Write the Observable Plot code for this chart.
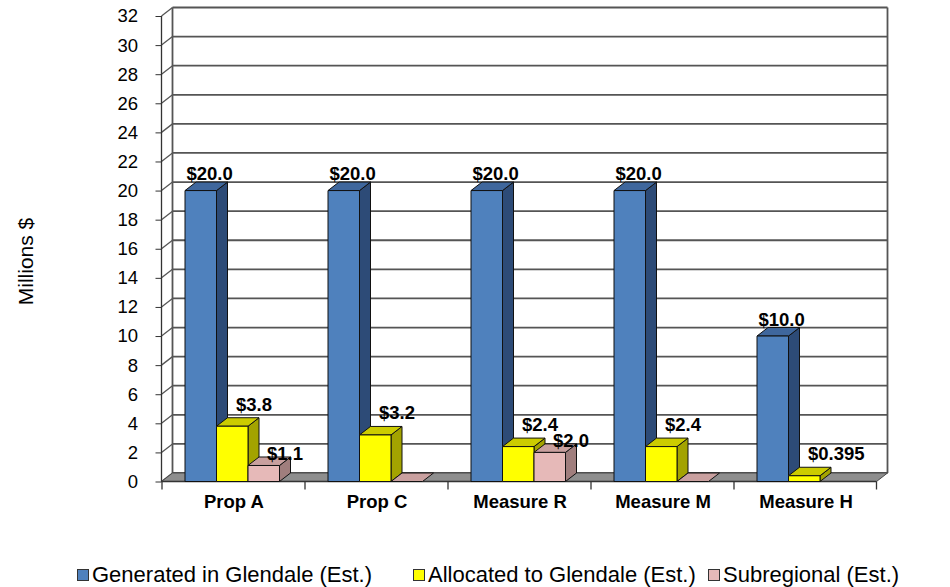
<!DOCTYPE html>
<html><head><meta charset="utf-8">
<script src="https://cdn.jsdelivr.net/npm/d3@7"></script>
<script src="https://cdn.jsdelivr.net/npm/@observablehq/plot@0.6"></script>
<style>
body{margin:0;background:#fff;font-family:"Liberation Sans",Arial,sans-serif;}
#wrap{position:relative;width:950px;height:587px;overflow:hidden;}
.legend{position:absolute;top:561px;left:0;width:950px;height:28px;font-size:22px;line-height:28px;color:#000;}
.item{position:absolute;top:0;white-space:nowrap;}
.sw{position:absolute;top:8px;width:12px;height:12px;border:1px solid #333;box-sizing:border-box;}
</style></head><body><div id="wrap"><div id="chart"></div><div class="legend" id="legend"></div></div>
<script>
// ---- data ----
const categories = ["Prop A", "Prop C", "Measure R", "Measure M", "Measure H"];
const seriesNames = ["Generated in Glendale (Est.)", "Allocated to Glendale (Est.)", "Subregional (Est.)"];
const generated = [20.0, 20.0, 20.0, 20.0, 10.0];
const allocated = [3.8, 3.2, 2.4, 2.4, 0.395];
const subregional = [1.1, 0, 2.0, 0, null];
const yTicks = [0, 2, 4, 6, 8, 10, 12, 14, 16, 18, 20, 22, 24, 26, 28, 30, 32];

// ---- styling ----
const seriesStyle = [
  {front: "#4f81bd", top: "#3f679d", side: "#2d4b77", labelDx: -47.5, labelDy: -11},
  {front: "#ffff00", top: "#cccc00", side: "#a3a300", labelDx: 2, labelDy: -16},
  {front: "#e6b9b8", top: "#c9a09f", side: "#a07e7d", labelDx: 33, labelDy: -6}
];
const seriesValues = [generated, allocated, subregional];
const rows = [];
seriesValues.forEach((vals, si) => vals.forEach((v, ci) => rows.push({cat: categories[ci], series: seriesNames[si], si, value: v})));

const W = 950, H = 530;
const mL = 161.5, mR = 73.5, mT = 16, mB = 48.5;
const DX = 11, DY = -8.5;
const OFF = 23, BARW = 31.5;
const fmt = d => d.value < 1 ? "$" + d.value : "$" + d.value.toFixed(1);
const font = '"Liberation Sans", Arial, sans-serif';

function path(pts) { return "M" + pts.map(p => p.join(",")).join("L") + "Z"; }

function wallMark(index, scales, values, dim) {
  const {x, y} = scales;
  const xl = dim.marginLeft, xr = dim.width - dim.marginRight;
  const g = d3.create("svg:g");
  const y0 = y(0), yTop = y(yTicks[yTicks.length - 1]);
  for (const t of yTicks) {
    const yy = y(t);
    g.append("line").attr("x1", xl + DX).attr("x2", xr + DX).attr("y1", yy + DY).attr("y2", yy + DY)
      .attr("stroke", "#555").attr("stroke-width", 1.8);
    g.append("line").attr("x1", xl).attr("x2", xl + DX).attr("y1", yy).attr("y2", yy + DY)
      .attr("stroke", "#555").attr("stroke-width", 1.3);
  }
  g.append("line").attr("x1", xl + DX).attr("x2", xl + DX).attr("y1", yTop + DY).attr("y2", y0 + DY).attr("stroke", "#555").attr("stroke-width", 1.8);
  g.append("line").attr("x1", xr + DX).attr("x2", xr + DX).attr("y1", yTop + DY).attr("y2", y0 + DY).attr("stroke", "#555").attr("stroke-width", 1.8);
  g.append("path").attr("d", path([[xl, y0], [xr, y0], [xr + DX, y0 + DY], [xl + DX, y0 + DY]]))
    .attr("fill", "#8e8e8e").attr("stroke", "#4a4a4a").attr("stroke-width", 1);
  g.append("line").attr("x1", xl).attr("x2", xl).attr("y1", yTop).attr("y2", y0).attr("stroke", "#333").attr("stroke-width", 1.3);
  const edges = categories.map(c => x(c)).concat([xr]);
  for (const ex of edges) {
    g.append("line").attr("x1", ex).attr("x2", ex).attr("y1", y0).attr("y2", y0 + 8).attr("stroke", "#333").attr("stroke-width", 1.3);
  }
  g.append("line").attr("x1", xl).attr("x2", xr).attr("y1", y0).attr("y2", y0).attr("stroke", "#333").attr("stroke-width", 1.3);
  return g.node();
}

function barsMark(index, scales) {
  const {x, y} = scales;
  const g = d3.create("svg:g").attr("stroke", "#111").attr("stroke-width", 1).attr("stroke-linejoin", "round");
  seriesStyle.forEach((s, si) => {
    for (const r of rows.filter(r => r.si === si && r.value != null)) {
      const x0 = x(r.cat) + OFF + si * BARW, x1 = x0 + BARW;
      const y0 = y(0), y1 = y(r.value);
      if (r.value > 0) {
        g.append("path").attr("d", path([[x1, y1], [x1 + DX, y1 + DY], [x1 + DX, y0 + DY], [x1, y0]])).attr("fill", s.side);
      }
      g.append("path").attr("d", path([[x0, y1], [x1, y1], [x1 + DX, y1 + DY], [x0 + DX, y1 + DY]])).attr("fill", s.top);
      if (r.value > 0) {
        g.append("rect").attr("x", x0).attr("y", y1).attr("width", BARW).attr("height", y0 - y1).attr("fill", s.front);
      }
    }
  });
  return g.node();
}

const labelMarks = seriesStyle.map((s, si) =>
  Plot.text(rows.filter(r => r.si === si && r.value > 0), {
    x: "cat", y: "value", text: fmt, textAnchor: "start", lineAnchor: "bottom",
    dx: s.labelDx, dy: s.labelDy, fontSize: 18.5, fontWeight: "bold", fill: "#000"
  })
);

const chart = Plot.plot({
  width: W, height: H,
  marginLeft: mL, marginRight: mR, marginTop: mT, marginBottom: mB,
  style: {fontFamily: font, background: "#fff", overflow: "visible"},
  x: {type: "band", domain: categories, padding: 0, label: null},
  y: {domain: [0, 32], label: null},
  marks: [
    wallMark,
    Plot.axisY({ticks: yTicks, tickSize: 6, tickPadding: 18, fontSize: 18.5, stroke: "#333", fill: "#000", label: null}),
    barsMark,
    ...labelMarks,
    Plot.axisX({tickSize: 0, tickPadding: 13, fontSize: 18.5, fontWeight: "bold", fill: "#000", label: null}),
    Plot.text(["Millions $"], {frameAnchor: "left", rotate: -90, dx: -135.5, dy: 56, fontSize: 21, fill: "#000"})
  ]
});
document.getElementById("chart").appendChild(chart);

// legend
const legendLeft = [77, 413, 708];
const legend = document.getElementById("legend");
seriesNames.forEach((name, i) => {
  const sw = document.createElement("div");
  sw.className = "sw";
  sw.style.left = legendLeft[i] + "px";
  sw.style.background = seriesStyle[i].front;
  legend.appendChild(sw);
  const t = document.createElement("div");
  t.className = "item";
  t.style.left = (legendLeft[i] + 15) + "px";
  t.textContent = name;
  legend.appendChild(t);
});
</script></body></html>
